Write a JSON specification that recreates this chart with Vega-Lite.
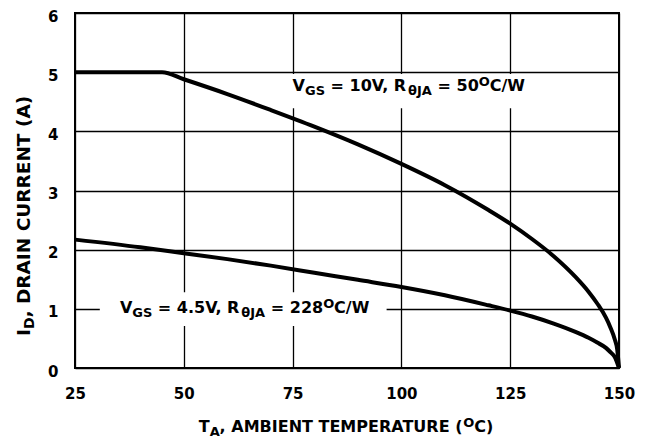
{
  "$schema": "https://vega.github.io/schema/vega-lite/v6.json",
  "width": 544,
  "height": 355,
  "autosize": {"type": "none"},
  "padding": {"left": 75, "top": 13, "right": 28, "bottom": 71},
  "background": "white",
  "config": {
    "view": {"stroke": "black", "strokeWidth": 2},
    "font": "DejaVu Sans"
  },
  "datasets": {
    "curves": [
      {"series": "10V", "T": 25, "I": 5.0},
      {"series": "10V", "T": 35, "I": 5.0},
      {"series": "10V", "T": 45, "I": 5.0},
      {"series": "10V", "T": 50, "I": 4.88},
      {"series": "10V", "T": 60, "I": 4.63},
      {"series": "10V", "T": 70, "I": 4.36},
      {"series": "10V", "T": 80, "I": 4.08},
      {"series": "10V", "T": 90, "I": 3.78},
      {"series": "10V", "T": 100, "I": 3.45},
      {"series": "10V", "T": 110, "I": 3.09},
      {"series": "10V", "T": 120, "I": 2.67},
      {"series": "10V", "T": 125, "I": 2.44},
      {"series": "10V", "T": 130, "I": 2.18},
      {"series": "10V", "T": 135, "I": 1.89},
      {"series": "10V", "T": 140, "I": 1.54},
      {"series": "10V", "T": 143, "I": 1.29},
      {"series": "10V", "T": 145, "I": 1.09},
      {"series": "10V", "T": 147, "I": 0.85},
      {"series": "10V", "T": 148, "I": 0.69},
      {"series": "10V", "T": 149, "I": 0.49},
      {"series": "10V", "T": 149.6, "I": 0.31},
      {"series": "10V", "T": 150, "I": 0.0},
      {"series": "4.5V", "T": 25, "I": 2.17},
      {"series": "4.5V", "T": 40, "I": 2.04},
      {"series": "4.5V", "T": 50, "I": 1.94},
      {"series": "4.5V", "T": 60, "I": 1.84},
      {"series": "4.5V", "T": 70, "I": 1.73},
      {"series": "4.5V", "T": 80, "I": 1.61},
      {"series": "4.5V", "T": 90, "I": 1.49},
      {"series": "4.5V", "T": 100, "I": 1.37},
      {"series": "4.5V", "T": 110, "I": 1.23},
      {"series": "4.5V", "T": 120, "I": 1.06},
      {"series": "4.5V", "T": 125, "I": 0.97},
      {"series": "4.5V", "T": 130, "I": 0.87},
      {"series": "4.5V", "T": 135, "I": 0.75},
      {"series": "4.5V", "T": 140, "I": 0.61},
      {"series": "4.5V", "T": 143, "I": 0.51},
      {"series": "4.5V", "T": 145, "I": 0.43},
      {"series": "4.5V", "T": 147, "I": 0.34},
      {"series": "4.5V", "T": 148, "I": 0.27},
      {"series": "4.5V", "T": 149, "I": 0.19},
      {"series": "4.5V", "T": 150, "I": 0.0}
    ],
    "boxes": [
      {"label": "10V", "t0": 73.2, "t1": 130.0, "i0": 4.97, "i1": 4.39},
      {"label": "4.5V", "t0": 30.7, "t1": 96.6, "i0": 1.28, "i1": 0.71}
    ],
    "texts": [
      {"role": "main", "T": 75.0, "I": 4.681, "text": "V"},
      {"role": "sub", "T": 77.84, "I": 4.681, "text": "GS"},
      {"role": "main", "T": 83.73, "I": 4.681, "text": "= 10V, R"},
      {"role": "sub", "T": 101.54, "I": 4.681, "text": "θJA"},
      {"role": "main", "T": 108.32, "I": 4.681, "text": "= 50"},
      {"role": "sup", "T": 117.78, "I": 4.681, "text": "O"},
      {"role": "main", "T": 120.3, "I": 4.681, "text": "C/W"},
      {"role": "main", "T": 35.32, "I": 0.9295, "text": "V"},
      {"role": "sub", "T": 38.17, "I": 0.9295, "text": "GS"},
      {"role": "main", "T": 44.03, "I": 0.9295, "text": "= 4.5V, R"},
      {"role": "sub", "T": 63.21, "I": 0.9295, "text": "θJA"},
      {"role": "main", "T": 70.0, "I": 0.9295, "text": "= 228"},
      {"role": "sup", "T": 82.02, "I": 0.9295, "text": "O"},
      {"role": "main", "T": 84.54, "I": 0.9295, "text": "C/W"},
      {"role": "main", "T": 53.44, "I": -1.0816, "text": "T"},
      {"role": "sub", "T": 55.94, "I": -1.0816, "text": "A"},
      {"role": "main", "T": 58.23, "I": -1.0816, "text": ", AMBIENT TEMPERATURE ("},
      {"role": "sup", "T": 114.2, "I": -1.0816, "text": "O"},
      {"role": "main", "T": 116.74, "I": -1.0816, "text": "C)"},
      {"role": "ymain", "T": 14.68, "I": 0.54, "text": "I"},
      {"role": "ysub", "T": 14.68, "I": 0.659, "text": "D"},
      {"role": "ymain", "T": 14.68, "I": 0.853, "text": ", DRAIN CURRENT (A)"}
    ]
  },
  "encoding": {
    "x": {
      "field": "T",
      "type": "quantitative",
      "scale": {"domain": [25, 150], "nice": false, "zero": false},
      "axis": {
        "title": null,
        "values": [25, 50, 75, 100, 125, 150],
        "grid": true,
        "gridColor": "black",
        "gridWidth": 1.3,
        "gridOpacity": 1,
        "ticks": false,
        "tickSize": 0,
        "domain": false,
        "labelFlush": false,
        "labelOverlap": false,
        "labelPadding": 18,
        "labelFont": "DejaVu Sans",
        "labelFontWeight": "bold",
        "labelFontSize": 15,
        "labelColor": "black"
      }
    },
    "y": {
      "field": "I",
      "type": "quantitative",
      "scale": {"domain": [0, 6], "nice": false},
      "axis": {
        "title": null,
        "values": [0, 1, 2, 3, 4, 5, 6],
        "grid": true,
        "gridColor": "black",
        "gridWidth": 1.3,
        "gridOpacity": 1,
        "ticks": false,
        "tickSize": 0,
        "domain": false,
        "labelFlush": false,
        "labelOverlap": false,
        "labelPadding": 17,
        "labelOffset": 3,
        "labelFont": "DejaVu Sans",
        "labelFontWeight": "bold",
        "labelFontSize": 15,
        "labelColor": "black"
      }
    }
  },
  "layer": [
    {
      "data": {"name": "boxes"},
      "mark": {"type": "rect", "fill": "white", "stroke": null},
      "encoding": {
        "x": {"field": "t0", "type": "quantitative"},
        "x2": {"field": "t1"},
        "y": {"field": "i0", "type": "quantitative"},
        "y2": {"field": "i1"}
      }
    },
    {
      "data": {"name": "curves"},
      "mark": {"type": "line", "color": "black", "strokeWidth": 4, "interpolate": "monotone", "strokeCap": "butt"},
      "encoding": {
        "detail": {"field": "series"},
        "order": {"field": "T", "type": "quantitative"}
      }
    },
    {
      "data": {"name": "texts"},
      "transform": [{"filter": "datum.role == 'main'"}],
      "mark": {"type": "text", "align": "left", "baseline": "alphabetic", "font": "DejaVu Sans", "fontWeight": "bold", "fontSize": 16, "color": "black"},
      "encoding": {"text": {"field": "text"}}
    },
    {
      "data": {"name": "texts"},
      "transform": [{"filter": "datum.role == 'sub'"}],
      "mark": {"type": "text", "align": "left", "baseline": "alphabetic", "font": "DejaVu Sans", "fontWeight": "bold", "fontSize": 13, "dy": 4, "color": "black"},
      "encoding": {"text": {"field": "text"}}
    },
    {
      "data": {"name": "texts"},
      "transform": [{"filter": "datum.role == 'sup'"}],
      "mark": {"type": "text", "align": "left", "baseline": "alphabetic", "font": "DejaVu Sans", "fontWeight": "bold", "fontSize": 13, "dy": -5, "color": "black"},
      "encoding": {"text": {"field": "text"}}
    },
    {
      "data": {"name": "texts"},
      "transform": [{"filter": "datum.role == 'ymain'"}],
      "mark": {"type": "text", "align": "left", "baseline": "alphabetic", "angle": 270, "font": "DejaVu Sans", "fontWeight": "bold", "fontSize": 18.5, "color": "black"},
      "encoding": {"text": {"field": "text"}}
    },
    {
      "data": {"name": "texts"},
      "transform": [{"filter": "datum.role == 'ysub'"}],
      "mark": {"type": "text", "align": "left", "baseline": "alphabetic", "angle": 270, "font": "DejaVu Sans", "fontWeight": "bold", "fontSize": 14, "dy": 4, "color": "black"},
      "encoding": {"text": {"field": "text"}}
    }
  ]
}
